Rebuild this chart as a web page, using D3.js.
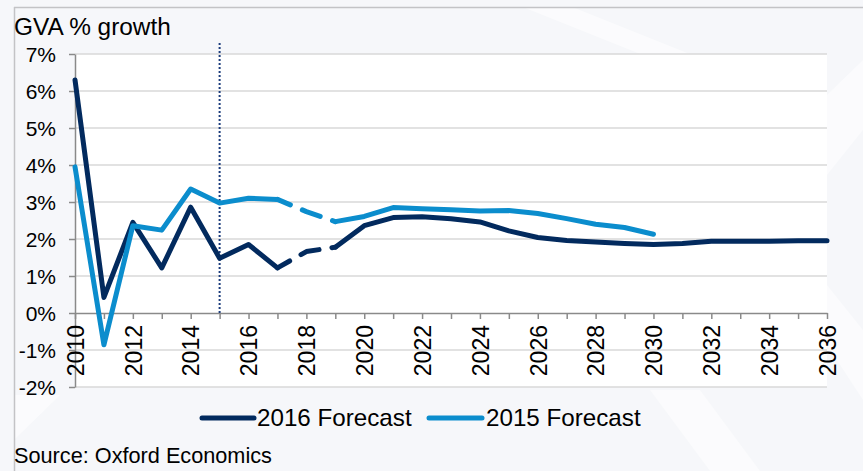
<!DOCTYPE html>
<html>
<head>
<meta charset="utf-8">
<script src="https://cdn.jsdelivr.net/npm/d3@7"></script>
<style>
  html, body { margin: 0; padding: 0; background: #f6f7fa; }
  svg { display: block; font-family: "Liberation Sans", Arial, sans-serif; }
</style>
</head>
<body>
<svg id="chart" width="863" height="471"></svg>
<script>
// Years on the x axis (annual GVA growth)
const years = [2010, 2011, 2012, 2013, 2014, 2015, 2016, 2017, 2018, 2019, 2020,
  2021, 2022, 2023, 2024, 2025, 2026, 2027, 2028, 2029, 2030,
  2031, 2032, 2033, 2034, 2035, 2036];

// 2016 forecast, % growth, 2010-2036
const forecast2016 = [6.3, 0.42, 2.45, 1.22, 2.86, 1.48, 1.85, 1.22, 1.66, 1.78, 2.36,
  2.58, 2.60, 2.55, 2.46, 2.22, 2.04, 1.96, 1.92, 1.88, 1.85,
  1.88, 1.94, 1.94, 1.94, 1.95, 1.95];

// 2015 forecast, % growth, 2010-2030
const forecast2015 = [3.95, -0.86, 2.36, 2.24, 3.35, 2.97, 3.1, 3.07, 2.74, 2.47, 2.61,
  2.85, 2.82, 2.79, 2.76, 2.77, 2.69, 2.55, 2.4, 2.31, 2.13];

// Gap years drawn dashed, and the first forecast year marker
const dashedFrom = 2017, dashedTo = 2019;
const forecastStart = 2015;

const yTicks = [-2, -1, 0, 1, 2, 3, 4, 5, 6, 7];
const xLabelYears = [2010, 2012, 2014, 2016, 2018, 2020, 2022, 2024, 2026, 2028, 2030, 2032, 2034, 2036];

const seriesNames = ["2016 Forecast", "2015 Forecast"];
const colors = ["#022a5e", "#0b8dcd"];

const svg = d3.select("#chart");
const W = 863, H = 471;
const plot = { left: 75, right: 827, top: 54, bottom: 387 };

const x = d3.scaleLinear().domain([2010, 2036]).range([plot.left, plot.right]);
const y = d3.scaleLinear().domain([-2, 7]).range([plot.bottom, plot.top]);

// faint background artwork
const bg = svg.append("g");
const shapes = [
  [[525, 8], [575, 8], [690, 54], [640, 54]],
  [[827, 95], [863, 60], [863, 130], [827, 175]],
  [[827, 285], [863, 330], [863, 400], [827, 345]],
  [[14, 395], [60, 395], [14, 440]],
  [[650, 390], [700, 390], [760, 471], [710, 471]]
];
bg.selectAll("polygon").data(shapes).join("polygon")
  .attr("points", d => d.map(p => p.join(",")).join(" "))
  .attr("fill", "#ffffff").attr("opacity", 0.5);

// outer frame (top and left edges)
svg.append("line").attr("x1", 14).attr("x2", W).attr("y1", 7.5).attr("y2", 7.5)
  .attr("stroke", "#c3c3c6").attr("stroke-width", 1.5);
svg.append("line").attr("x1", 14.5).attr("x2", 14.5).attr("y1", 7).attr("y2", H)
  .attr("stroke", "#c3c3c6").attr("stroke-width", 1.5);

// white plotting area
svg.append("rect")
  .attr("x", plot.left).attr("y", plot.top)
  .attr("width", plot.right - plot.left).attr("height", plot.bottom - plot.top)
  .attr("fill", "#ffffff");

// horizontal gridlines
svg.append("g").selectAll("line").data(yTicks.filter(d => d !== 0)).join("line")
  .attr("x1", plot.left).attr("x2", plot.right)
  .attr("y1", d => y(d)).attr("y2", d => y(d))
  .attr("stroke", "#d9d9d9").attr("stroke-width", 1.5);

// y axis
const yAxis = svg.append("g")
  .attr("transform", `translate(${plot.left},0)`)
  .call(d3.axisLeft(y).tickValues(yTicks).tickFormat(d => d + "%")
    .tickSize(6).tickSizeOuter(0).tickPadding(13));
yAxis.select(".domain").attr("stroke", "#8a8a8a").attr("stroke-width", 1.5);
yAxis.selectAll(".tick line").attr("stroke", "#8a8a8a").attr("stroke-width", 1.5);
yAxis.selectAll(".tick text")
  .attr("font-size", 21).attr("fill", "#000").attr("font-family", "Liberation Sans, Arial, sans-serif")
  .attr("dy", "0.36em");

// x axis at zero
const xAxis = svg.append("g")
  .attr("transform", `translate(0,${y(0)})`)
  .call(d3.axisBottom(x).tickValues(years)
    .tickFormat(d => xLabelYears.includes(d) ? String(d) : "")
    .tickSize(6).tickSizeOuter(0));
xAxis.select(".domain").attr("stroke", "#8a8a8a").attr("stroke-width", 1.5);
xAxis.selectAll(".tick line").attr("stroke", "#8a8a8a").attr("stroke-width", 1.5);
xAxis.selectAll(".tick text")
  .attr("font-size", 23).attr("fill", "#000").attr("font-family", "Liberation Sans, Arial, sans-serif")
  .attr("transform", "rotate(-90)")
  .attr("text-anchor", "end")
  .attr("x", -12).attr("y", 0).attr("dy", "0.36em");

// dotted marker at the start of the forecast
svg.append("line")
  .attr("x1", x(forecastStart)).attr("x2", x(forecastStart))
  .attr("y1", 43).attr("y2", y(0))
  .attr("stroke", "#1c3c7c").attr("stroke-width", 2)
  .attr("stroke-dasharray", "2,2");

// series lines: solid except the dashed gap years
const line = d3.line().x(d => x(d.year)).y(d => y(d.value));
const seriesData = [forecast2016, forecast2015].map(vals =>
  vals.map((v, i) => ({ year: years[i], value: v })));

seriesData.forEach((pts, i) => {
  const g = svg.append("g");
  const before = pts.filter(p => p.year <= dashedFrom);
  const gap = pts.filter(p => p.year >= dashedFrom && p.year <= dashedTo);
  const after = pts.filter(p => p.year >= dashedTo);
  [before, after].forEach(seg => {
    g.append("path").datum(seg).attr("d", line)
      .attr("fill", "none").attr("stroke", colors[i]).attr("stroke-width", 5)
      .attr("stroke-linejoin", "round").attr("stroke-linecap", "round");
  });
  g.append("path").datum(gap).attr("d", line)
    .attr("fill", "none").attr("stroke", colors[i]).attr("stroke-width", 5)
    .attr("stroke-linecap", "round").attr("stroke-linejoin", "round")
    .attr("stroke-dasharray", "19,13").attr("stroke-dashoffset", 5);
});

// title
svg.append("text").attr("x", 14).attr("y", 35)
  .attr("font-size", 24.4).attr("fill", "#000").text("GVA % growth");

// legend
const legendItems = [
  { name: seriesNames[0], color: colors[0], x1: 202, x2: 254, tx: 257 },
  { name: seriesNames[1], color: colors[1], x1: 429, x2: 482, tx: 486 }
];
const lg = svg.append("g");
legendItems.forEach(d => {
  lg.append("line").attr("x1", d.x1).attr("x2", d.x2).attr("y1", 418).attr("y2", 418)
    .attr("stroke", d.color).attr("stroke-width", 5).attr("stroke-linecap", "round");
  lg.append("text").attr("x", d.tx).attr("y", 426)
    .attr("font-size", 24.2).attr("fill", "#000").text(d.name);
});

// source note
svg.append("text").attr("x", 14).attr("y", 463)
  .attr("font-size", 21.7).attr("fill", "#000").text("Source: Oxford Economics");
</script>
</body>
</html>
